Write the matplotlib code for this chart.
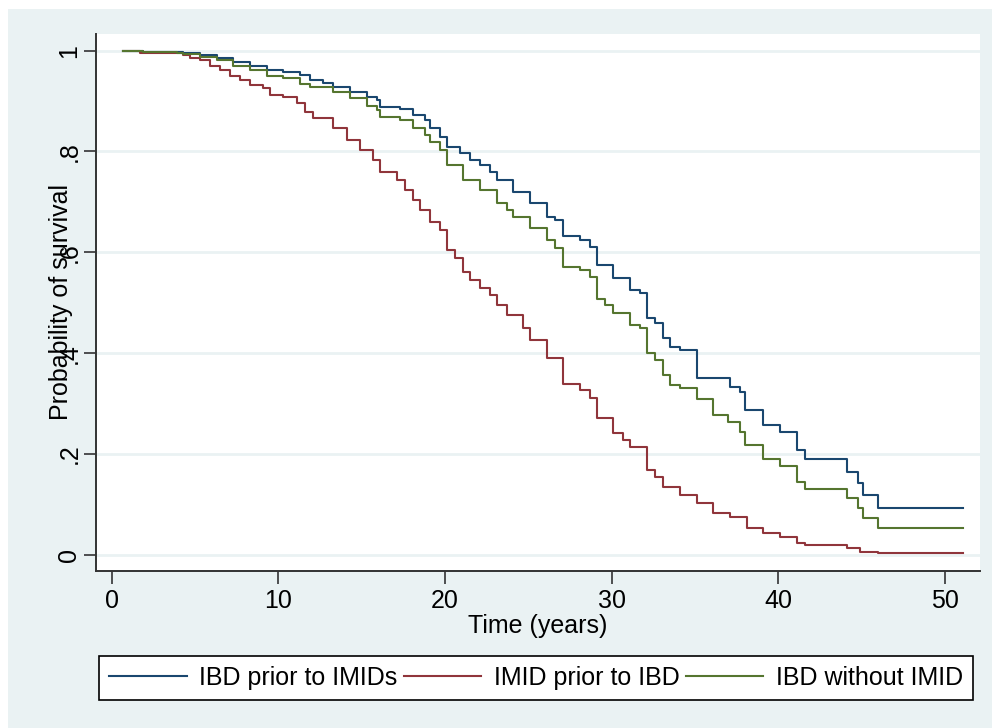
import matplotlib
matplotlib.use("Agg")
import matplotlib.pyplot as plt
from matplotlib.patches import Rectangle

plt.rcParams["font.family"] = ["Liberation Sans", "DejaVu Sans"]

# Kaplan-Meier estimates (time in years, survival)
t_prior = [0.68, 1.9, 3.9, 4.3, 5.3, 6.3, 7.3, 8.3, 9.3, 10.3, 11.3, 11.9, 12.7, 13.3,
           14.3, 15.3, 15.9, 16.1, 17.3, 18.1, 18.8, 19.1, 19.7, 20.1, 20.9, 21.5,
           22.1, 22.7, 23.1, 24.1, 25.1, 26.1, 26.6, 27.1, 28.1, 28.7, 29.1, 30.1,
           31.1, 31.7, 32.1, 32.6, 33.1, 33.5, 34.1, 35.1, 37.1, 37.7, 38.0, 39.1,
           40.1, 41.1, 41.6, 44.1, 44.8, 45.1, 46.0, 51.1]
s_prior = [1.0, 0.998, 0.997, 0.995, 0.991, 0.985, 0.978, 0.970, 0.962, 0.958, 0.952,
           0.942, 0.936, 0.928, 0.918, 0.908, 0.902, 0.888, 0.884, 0.872, 0.863, 0.847,
           0.829, 0.809, 0.797, 0.783, 0.773, 0.759, 0.744, 0.720, 0.698, 0.670, 0.664,
           0.633, 0.625, 0.611, 0.575, 0.549, 0.525, 0.520, 0.470, 0.460, 0.430, 0.412,
           0.406, 0.351, 0.333, 0.323, 0.288, 0.258, 0.244, 0.208, 0.190, 0.165, 0.143,
           0.119, 0.093, 0.093]

t_imid = [0.68, 1.7, 4.3, 4.7, 5.3, 5.9, 6.5, 7.1, 7.7, 8.3, 9.1, 9.5, 10.3, 11.1, 11.6,
          12.1, 13.3, 14.1, 14.9, 15.7, 16.1, 17.1, 17.6, 18.1, 18.5, 19.1, 19.7, 20.1,
          20.6, 21.1, 21.5, 22.1, 22.7, 23.1, 23.7, 24.7, 25.1, 26.1, 27.1, 28.1, 28.7,
          29.1, 30.1, 30.7, 31.1, 32.1, 32.6, 33.1, 34.1, 35.1, 36.1, 37.1, 38.1, 39.1,
          40.1, 41.1, 41.6, 44.1, 44.9, 46.0, 51.1]
s_imid = [1.0, 0.996, 0.991, 0.985, 0.982, 0.970, 0.962, 0.950, 0.942, 0.932, 0.926,
          0.912, 0.908, 0.896, 0.878, 0.867, 0.847, 0.823, 0.803, 0.783, 0.759, 0.744,
          0.724, 0.704, 0.684, 0.660, 0.644, 0.605, 0.589, 0.561, 0.545, 0.529, 0.516,
          0.496, 0.476, 0.450, 0.426, 0.390, 0.339, 0.327, 0.311, 0.272, 0.242, 0.228,
          0.214, 0.169, 0.155, 0.135, 0.119, 0.103, 0.083, 0.075, 0.054, 0.044, 0.036,
          0.024, 0.020, 0.014, 0.006, 0.004, 0.004]

t_none = [0.68, 1.9, 3.9, 4.3, 5.3, 6.3, 7.3, 8.3, 9.3, 10.3, 11.3, 11.9, 13.3, 14.3,
          15.3, 15.9, 16.1, 17.3, 18.1, 18.8, 19.1, 19.7, 20.1, 21.1, 22.1, 23.1, 23.7,
          24.1, 25.1, 26.1, 26.6, 27.1, 28.1, 28.7, 29.1, 29.6, 30.1, 31.1, 31.7, 32.1,
          32.6, 33.1, 33.5, 34.1, 35.1, 36.1, 37.0, 37.7, 38.0, 39.1, 40.1, 41.1, 41.6,
          44.1, 44.8, 45.1, 46.0, 51.1]
s_none = [1.0, 0.998, 0.996, 0.993, 0.987, 0.982, 0.970, 0.962, 0.950, 0.946, 0.934,
          0.928, 0.918, 0.906, 0.890, 0.882, 0.869, 0.863, 0.847, 0.833, 0.819, 0.803,
          0.773, 0.744, 0.724, 0.698, 0.684, 0.670, 0.648, 0.625, 0.609, 0.571, 0.565,
          0.551, 0.508, 0.496, 0.480, 0.456, 0.450, 0.401, 0.387, 0.357, 0.337, 0.331,
          0.309, 0.278, 0.264, 0.244, 0.218, 0.190, 0.176, 0.145, 0.131, 0.113, 0.093,
          0.073, 0.054, 0.054]

labels = ["IBD prior to IMIDs", "IMID prior to IBD", "IBD without IMID"]
colors = ["#1a476f", "#90353b", "#55752f"]

fig = plt.figure(figsize=(9.92, 7.28), dpi=100)
fig.patch.set_facecolor("white")
# stata-like graph region
fig.add_artist(Rectangle((8 / 992, 0), 1, 719 / 728, transform=fig.transFigure,
                         facecolor="#eaf2f3", edgecolor="none", zorder=-10))

ax = fig.add_axes([96 / 992, 157 / 728, 884 / 992, 537 / 728])
ax.set_facecolor("white")

for t, s, lab, c in zip([t_prior, t_imid, t_none], [s_prior, s_imid, s_none], labels, colors):
    ax.step(t, s, where="post", color=c, lw=1.5, label=lab)

ax.set_xlim(-0.94, 52.09)
ax.set_ylim(-0.032, 1.033)
ax.set_xticks([0, 10, 20, 30, 40, 50])
ax.set_yticks([0, 0.2, 0.4, 0.6, 0.8, 1.0])
ax.set_yticklabels(["0", ".2", ".4", ".6", ".8", "1"], rotation=90, va="center")
ax.tick_params(axis="both", labelsize=18, length=9, width=1.2, color="#333333")
ax.tick_params(axis="y", pad=1.5)
ax.tick_params(axis="x", pad=4)
ax.grid(True, axis="y", color="#eaf2f3", lw=2)
ax.set_axisbelow(True)
for side in ["top", "right"]:
    ax.spines[side].set_visible(False)
for side in ["left", "bottom"]:
    ax.spines[side].set_color("#333333")
    ax.spines[side].set_linewidth(1.4)

ax.set_xlabel("Time (years)", fontsize=18, labelpad=1)
ax.set_ylabel("Probability of survival", fontsize=18, labelpad=-11)

leg = fig.legend(loc="center left", bbox_to_anchor=(99 / 992, 1 - 678 / 728), ncol=3,
                 fontsize=18, handlelength=3.1, handletextpad=0.5, columnspacing=0.25,
                 borderpad=0.4, borderaxespad=0, fancybox=False, framealpha=1,
                 edgecolor="black")
leg.get_frame().set_linewidth(1.2)
for h in leg.get_lines():
    h.set_linewidth(1.5)

fig.savefig("out.png", dpi=100)
